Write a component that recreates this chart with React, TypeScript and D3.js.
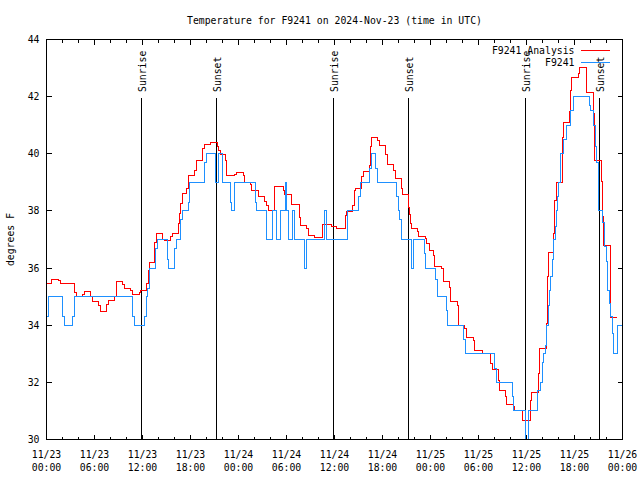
import React from "react";
import * as d3 from "d3";

const W = 640;
const H = 480;
const title = "Temperature for F9241 on 2024-Nov-23 (time in UTC)";
const yAxisLabel = "degrees F";
const tickDates = ["11/23", "11/23", "11/23", "11/23", "11/24", "11/24", "11/24", "11/24", "11/25", "11/25", "11/25", "11/25", "11/26"];
const tickTimes = ["00:00", "06:00", "12:00", "18:00", "00:00", "06:00", "12:00", "18:00", "00:00", "06:00", "12:00", "18:00", "00:00"];
const yTicks = [30, 32, 34, 36, 38, 40, 42, 44];
const sunHours = [11.85, 21.19, 35.85, 45.23, 59.87, 69.1];
const sunLabels = ["Sunrise", "Sunset", "Sunrise", "Sunset", "Sunrise", "Sunset"];
const seriesNames = ["F9241 Analysis", "F9241"];
const seriesColors = ["#ff0000", "#1e90ff"];

// [hours since 11/23 00:00 UTC, degrees F] step starts
const analysisSteps: [number, number][] = [
  [0, 35.46], [0.6, 35.6], [1.44, 35.55], [1.69, 35.46], [3.53, 35.13], [3.69, 34.99], [4.53, 35.09], [4.78, 35.18],
  [5.53, 34.99], [5.78, 34.83], [6.53, 34.69], [6.78, 34.48], [7.53, 34.74], [7.78, 34.88], [8.53, 34.99], [8.69, 35.53],
  [9.53, 35.42], [9.78, 35.28], [10.53, 35.23], [10.69, 35.09], [11.6, 35.13], [11.78, 35.21], [12.53, 35.46], [12.69, 35.93],
  [12.85, 36.19], [13.53, 36.89], [13.69, 37.22], [14.53, 37.0], [14.69, 36.96], [15.53, 37.1], [15.69, 37.2], [16.44, 37.57],
  [16.6, 37.92], [16.69, 38.27], [17.03, 38.62], [17.56, 38.79], [17.73, 39.23], [18.56, 39.43], [18.73, 39.77], [19.48, 40.17],
  [19.73, 40.33], [20.56, 40.38], [21.4, 40.26], [21.56, 40.1], [21.73, 39.98], [22.4, 39.77], [22.56, 39.23], [23.56, 39.28],
  [23.81, 39.35], [24.65, 39.23], [24.73, 39.0], [25.48, 38.91], [25.65, 38.73], [26.56, 38.49], [27.31, 38.32], [27.56, 38.18],
  [27.73, 38.0], [28.56, 38.84], [29.65, 38.73], [29.81, 38.58], [30.65, 38.23], [31.65, 37.76], [31.75, 37.5], [32.53, 37.37],
  [32.73, 37.13], [33.56, 37.06], [34.44, 37.2], [34.56, 37.53], [35.65, 37.45], [36.31, 37.37], [37.35, 37.83], [37.53, 37.97],
  [38.28, 38.18], [38.44, 38.73], [38.6, 38.79], [39.35, 39.2], [39.6, 39.37], [40.35, 39.6], [40.44, 40.24], [40.6, 40.58],
  [41.35, 40.45], [41.6, 40.28], [42.35, 39.96], [42.6, 39.63], [43.35, 39.4], [43.6, 39.12], [44.35, 38.79], [44.53, 38.56],
  [45.28, 38.11], [45.35, 37.86], [45.44, 37.55], [45.6, 37.37], [46.35, 37.27], [46.53, 37.09], [47.35, 37.02], [47.53, 36.87],
  [47.85, 36.6], [48.35, 36.43], [48.53, 36.05], [49.35, 35.97], [49.6, 35.52], [50.35, 35.32], [50.53, 34.82], [51.35, 34.7],
  [51.53, 34.0], [52.19, 33.9], [52.44, 33.58], [53.35, 33.47], [53.53, 33.13], [54.44, 33.01], [55.53, 32.66], [55.69, 32.45],
  [56.44, 32.08], [56.6, 31.73], [57.35, 31.49], [57.53, 31.24], [58.35, 31.15], [58.44, 31.03], [59.53, 30.68], [60.44, 31.03],
  [60.53, 31.38], [60.6, 31.63], [61.44, 32.31], [61.6, 33.19], [62.44, 34.06], [62.6, 35.72], [62.69, 36.54], [63.35, 37.21],
  [63.44, 38.38], [63.69, 39.0], [64.44, 40.58], [64.6, 41.11], [65.35, 41.47], [65.53, 42.23], [65.6, 42.68], [66.44, 42.8],
  [66.6, 43.03], [67.44, 42.41], [67.53, 42.15], [68.35, 41.42], [68.53, 39.75], [69.35, 39.02], [69.53, 37.8], [69.6, 36.8],
  [70.53, 34.27], [71.35, 34.27],
];

const observedSteps: [number, number][] = [
  [0, 34.3], [0.19, 35], [1.94, 34.3], [2.27, 34], [3.19, 34.3], [3.44, 35], [10.78, 34.3], [10.94, 34],
  [12.28, 34.3], [12.44, 35], [12.6, 35.3], [12.85, 36], [13.6, 36.7], [13.85, 37], [15.1, 36.3], [15.28, 36],
  [15.94, 36.7], [16.19, 37], [16.69, 37.7], [16.94, 38], [17.69, 38.3], [17.9, 39], [19.81, 39.7], [19.98, 40],
  [21.15, 39], [21.44, 40], [22.03, 39], [22.98, 38.3], [23.15, 38], [23.53, 39], [26.15, 38.3], [26.31, 38],
  [27.53, 37], [28.19, 38], [28.69, 37], [29.19, 38], [29.85, 39], [30.06, 38], [30.31, 37], [30.69, 38],
  [31.03, 37], [32.19, 36], [32.53, 37], [34.69, 38], [34.94, 37], [37.6, 38], [38.94, 38.5], [39.19, 39],
  [40.35, 39.5], [40.6, 40], [41.1, 39.5], [41.35, 39], [43.69, 38.5], [43.94, 38], [44.1, 37.7], [44.35, 37],
  [45.6, 36], [45.85, 37], [47.19, 36.5], [47.35, 36], [48.6, 35.6], [48.85, 35], [49.94, 34.5], [50.1, 34],
  [52.1, 33.5], [52.35, 33], [55.94, 32.5], [56.19, 32], [58.19, 31.5], [58.35, 31], [59.9, 30], [60.28, 31],
  [61.35, 31.7], [61.69, 32], [61.94, 32.7], [62.1, 33], [62.35, 33.3], [62.53, 34], [62.69, 34.7], [62.85, 35.2],
  [63.03, 35.7], [63.19, 36.3], [63.35, 37], [63.6, 37.45], [63.78, 38], [63.88, 38.5], [64.03, 39], [64.28, 40],
  [64.6, 40.5], [65.03, 41], [65.44, 41.5], [65.85, 42], [67.85, 41.7], [68.03, 41.5], [68.35, 41], [68.6, 40.25],
  [68.78, 39.7], [69.03, 38], [69.44, 37.6], [69.69, 36.75], [69.94, 36.22], [70.1, 35.23], [70.35, 34.76], [70.53, 34.29],
  [70.69, 33.71], [70.85, 33], [71.35, 34], [72, 34],
];

const FONT = "'DejaVu Sans Mono', 'Liberation Mono', monospace";

export default function App() {
  const left = 46.5, right = 622.5, top = 39.5, bottom = 439.5;
  const x = d3.scaleLinear().domain([0, 72]).range([left, right]);
  const y = d3.scaleLinear().domain([30, 44]).range([bottom, top]);
  const line = d3
    .line<[number, number]>()
    .x((d) => x(d[0]))
    .y((d) => y(d[1]))
    .curve(d3.curveStepAfter);

  const majorX = d3.range(0, 73, 6);
  const minorX = d3.range(0, 73, 2).filter((h) => h % 6 !== 0);
  const fs = 9.8;

  return (
    <svg
      width={W}
      height={H}
      viewBox={`0 0 ${W} ${H}`}
      style={{ position: "absolute", left: 0, top: 0, display: "block", background: "#fff" }}
      fontFamily={FONT}
      fontSize={fs}
    >
      <rect x={0} y={0} width={W} height={H} fill="#fff" />
      <text x={(left + right) / 2} y={20} textAnchor="middle" dominantBaseline="central" fill="#000">
        {title}
      </text>

      {/* ticks */}
      <g stroke="#000" strokeWidth={1} shapeRendering="crispEdges">
        {majorX.map((h) => (
          <g key={"mx" + h}>
            <line x1={x(h)} x2={x(h)} y1={bottom} y2={bottom - 5} />
            <line x1={x(h)} x2={x(h)} y1={top} y2={top + 5} />
          </g>
        ))}
        {minorX.map((h) => (
          <g key={"nx" + h}>
            <line x1={x(h)} x2={x(h)} y1={bottom} y2={bottom - 3} />
            <line x1={x(h)} x2={x(h)} y1={top} y2={top + 3} />
          </g>
        ))}
        {yTicks.map((v) => (
          <g key={"y" + v}>
            <line x1={left} x2={left + 5} y1={y(v)} y2={y(v)} />
            <line x1={right} x2={right - 5} y1={y(v)} y2={y(v)} />
          </g>
        ))}
      </g>

      {yTicks.map((v) => (
        <text key={"yl" + v} x={39.5} y={y(v)} textAnchor="end" dominantBaseline="central" fill="#000">
          {v}
        </text>
      ))}
      {majorX.map((h, i) => (
        <g key={"xl" + h}>
          <text x={x(h)} y={454.5} textAnchor="middle" dominantBaseline="central" fill="#000">
            {tickDates[i]}
          </text>
          <text x={x(h)} y={467.5} textAnchor="middle" dominantBaseline="central" fill="#000">
            {tickTimes[i]}
          </text>
        </g>
      ))}
      <text
        transform={`translate(13.5, ${(top + bottom) / 2}) rotate(-90)`}
        textAnchor="middle"
        fill="#000"
      >
        {yAxisLabel}
      </text>

      {/* sunrise / sunset markers */}
      {sunHours.map((h, i) => (
        <g key={"sun" + i}>
          <line
            x1={x(h)}
            x2={x(h)}
            y1={98}
            y2={bottom}
            stroke="#000"
            strokeWidth={1}
            shapeRendering="crispEdges"
          />
          <text transform={`translate(${x(h) + 5}, 92) rotate(-90)`} textAnchor="start" fill="#000">
            {sunLabels[i]}
          </text>
        </g>
      ))}

      {/* data */}
      <path d={line(analysisSteps) || ""} fill="none" stroke={seriesColors[0]} strokeWidth={1} shapeRendering="crispEdges" />
      <path d={line(observedSteps) || ""} fill="none" stroke={seriesColors[1]} strokeWidth={1} shapeRendering="crispEdges" />

      {/* legend */}
      {seriesNames.map((name, i) => (
        <g key={"lg" + i}>
          <text x={574.5} y={50 + i * 12} textAnchor="end" dominantBaseline="central" fill="#000">
            {name}
          </text>
          <line
            x1={581}
            x2={609.5}
            y1={50 + i * 12}
            y2={50 + i * 12}
            stroke={seriesColors[i]}
            strokeWidth={1}
            shapeRendering="crispEdges"
          />
        </g>
      ))}

      <rect
        x={left}
        y={top}
        width={right - left}
        height={bottom - top}
        fill="none"
        stroke="#000"
        strokeWidth={1}
        shapeRendering="crispEdges"
      />
    </svg>
  );
}
